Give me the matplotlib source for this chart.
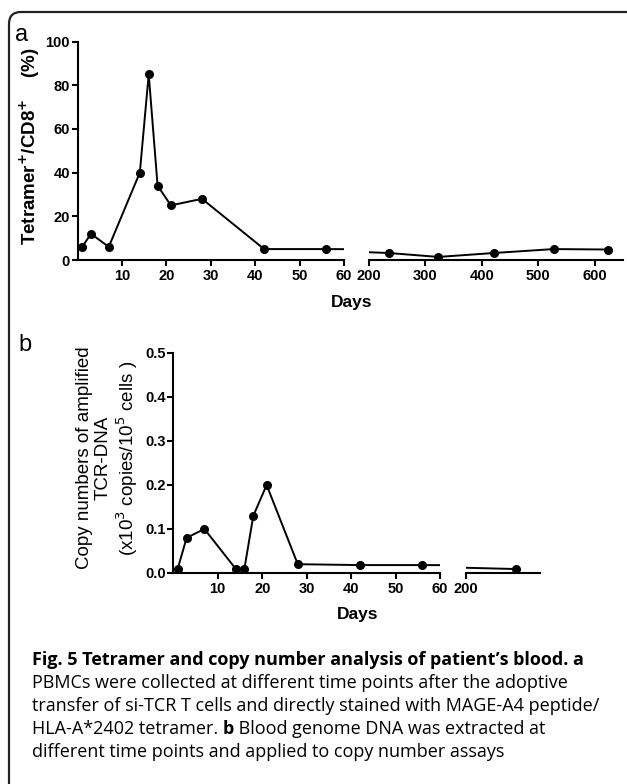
import matplotlib.pyplot as plt
from matplotlib.patches import FancyBboxPatch

W, H = 627, 784

# panel a: tetramer+/CD8+ (%)
days_a = [1, 3, 7, 14, 16, 18, 21, 28, 42, 56, 235, 323, 421, 527, 623]
tet_a = [6, 12, 6, 40, 85, 34, 25, 28, 5, 5, 3.2, 1.4, 3.2, 5, 4.8]

# panel b: copy numbers
days_b = [1, 3, 7, 14, 16, 18, 21, 28, 42, 56, 268]
copies_b = [0.01, 0.08, 0.10, 0.01, 0.01, 0.13, 0.20, 0.02, 0.018, 0.018, 0.009]

caption = [
    [("Fig. 5 Tetramer and copy number analysis of patient\u2019s blood. a", "bold")],
    [("PBMCs were collected at different time points after the adoptive", "normal")],
    [("transfer of si-TCR T cells and directly stained with MAGE-A4 peptide/", "normal")],
    [("HLA-A*2402 tetramer. ", "normal"), ("b", "bold"),
     (" Blood genome DNA was extracted at", "normal")],
    [("different time points and applied to copy number assays", "normal")],
]

plt.rcParams['font.family'] = ['Liberation Sans', 'DejaVu Sans']

fig = plt.figure(figsize=(W / 100, H / 100), dpi=100)


def box(x0, x1, ytop, ybot):
    return [x0 / W, 1 - ybot / H, (x1 - x0) / W, (ybot - ytop) / H]


def style(ax, left=True):
    for s in ['top', 'right']:
        ax.spines[s].set_visible(False)
    ax.spines['bottom'].set_linewidth(1.5)
    ax.spines['left'].set_linewidth(1.5)
    ax.tick_params(width=1.5, length=4, labelsize=10.5, pad=2.5)
    for lab in ax.get_xticklabels() + ax.get_yticklabels():
        lab.set_fontweight('bold')
    if not left:
        ax.spines['left'].set_visible(False)
        ax.tick_params(axis='y', left=False, labelleft=False)


def draw(ax, x, y):
    ax.plot(x, y, color='black', lw=1.4, marker='o', ms=5.5, clip_on=True)


# ---- panel a
a1 = fig.add_axes(box(77.7, 344, 41.5, 260))
a2 = fig.add_axes(box(369, 623, 41.5, 260))
for ax in (a1, a2):
    draw(ax, days_a, tet_a)
    ax.set_ylim(0, 100)
a1.set_xlim(0, 60)
a1.set_xticks([10, 20, 30, 40, 50, 60])
a1.set_yticks([0, 20, 40, 60, 80, 100])
a2.set_xlim(200, 650)
a2.set_xticks([200, 300, 400, 500, 600])
style(a1)
style(a2, left=False)
a1.tick_params(axis='y', pad=1.5)

# ---- panel b
b1 = fig.add_axes(box(173.3, 440, 353, 573))
b2 = fig.add_axes(box(465.7, 540, 353, 573))
for ax in (b1, b2):
    draw(ax, days_b, copies_b)
    ax.set_ylim(0, 0.5)
b1.set_xlim(0, 60)
b1.set_xticks([10, 20, 30, 40, 50, 60])
b1.set_yticks([0, 0.1, 0.2, 0.3, 0.4, 0.5])
b1.set_yticklabels(['0.0', '0.1', '0.2', '0.3', '0.4', '0.5'])
b2.set_xlim(200, 300)
b2.set_xticks([200])
style(b1)
style(b2, left=False)
b1.tick_params(axis='y', pad=1.5)


def ftext(x, y, s, **kw):
    return fig.text(x / W, 1 - y / H, s, **kw)


ftext(22, 35, "a", fontsize=17, ha='center', va='center')
ftext(25, 345, "b", fontsize=17, ha='center', va='center')
ftext(30, 146, "Tetramer$^{\\mathbf{+}}$/CD8$^{\\mathbf{+}}$    (%)", fontsize=13.5,
      fontweight='bold', rotation=90, ha='center', va='center')
ftext(352, 302, "Days", fontsize=12.5, fontweight='bold', ha='center', va='center')
ftext(358, 615, "Days", fontsize=12.5, fontweight='bold', ha='center', va='center')
ftext(108, 458, "Copy numbers of amplified\nTCR-DNA\n(x10$^3$ copies/10$^5$ cells )",
      fontsize=13.5, rotation=90, ha='center', va='center', linespacing=1.15,
      multialignment='center')

# ---- caption
renderer = fig.canvas.get_renderer()
y0 = 665
for i, parts in enumerate(caption):
    x = 32
    for txt, wt in parts:
        t = ftext(x, y0 + i * 23, txt, fontsize=13, fontweight=wt,
                  family=['Open Sans', 'DejaVu Sans'], va='baseline', ha='left')
        bb = t.get_window_extent(renderer)
        x += bb.width

# ---- frame (top-left corner at 9px, 12px; runs off the right and bottom)
frame = FancyBboxPatch((0.09, -0.3), 6.31, 8.02,
                       boxstyle="round,pad=0,rounding_size=0.12",
                       transform=fig.dpi_scale_trans, fill=False,
                       lw=1.6, ec='#222222')
fig.patches.append(frame)

fig.savefig('out.png', dpi=100)
